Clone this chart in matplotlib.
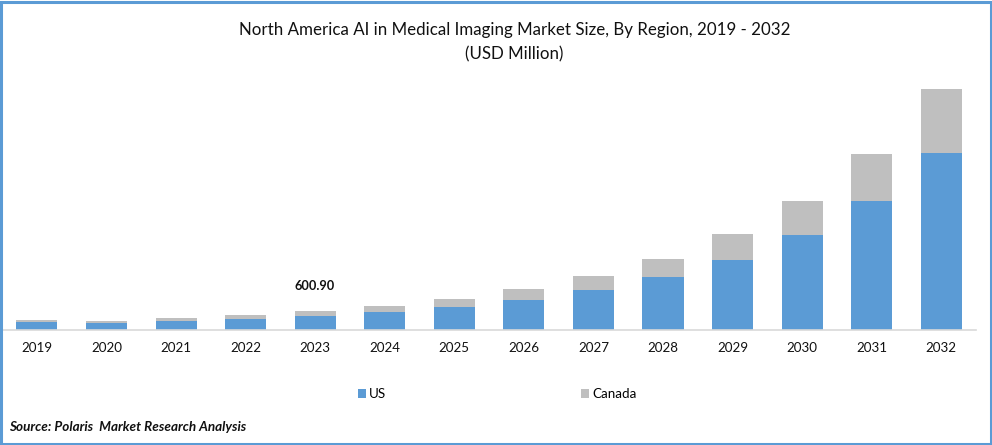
"""North America AI in medical imaging market size, stacked bars by region."""

import matplotlib.pyplot as plt
from matplotlib.patches import Rectangle

plt.rcParams["font.family"] = ["Lato", "DejaVu Sans"]

YEARS = ["2019", "2020", "2021", "2022", "2023", "2024", "2025",
         "2026", "2027", "2028", "2029", "2030", "2031", "2032"]
US = [253, 221, 284, 348, 443, 569, 727, 948, 1264, 1675, 2212, 3002, 4076, 5593]
CANADA = [63, 63, 95, 126, 157.9, 190, 253, 348, 442, 569, 822, 1074, 1485, 2022]

W, H = 992, 445
BLUE = "#5B9BD5"
GREY = "#BFBFBF"

fig = plt.figure(figsize=(W / 100, H / 100), dpi=100, facecolor="white")
# axes box in pixels: baseline at y=330, top of tallest bar near y=89
ax = fig.add_axes([2.2 / W, (H - 330) / H, (976 - 2.2) / W, 260 / H])

x = range(len(YEARS))
ax.bar(x, US, width=0.59, color=BLUE, label="US")
ax.bar(x, CANADA, width=0.59, bottom=US, color=GREY, label="Canada")

ax.set_xlim(-0.5, 13.5)
ax.set_ylim(0, 260 * 31.6)
ax.set_xticks(list(x))
ax.set_xticklabels(YEARS, fontsize=9.6, color="#111111")
ax.tick_params(axis="x", length=0, pad=8.5)
ax.set_yticks([])
for s in ["top", "left", "right"]:
    ax.spines[s].set_visible(False)
ax.spines["bottom"].set_color("#D9D9D9")
ax.spines["bottom"].set_linewidth(1.2)

ax.text(3.985, US[4] + CANADA[4] + 600, "600.90", ha="center", va="bottom",
        fontsize=9.2, fontweight="bold", color="#111111")

fig.text(515 / W, 1 - 30 / H, "North America AI in Medical Imaging Market Size, By Region, 2019 - 2032",
         ha="center", va="center", fontsize=12.2, color="#111111")
fig.text(514 / W, 1 - 54 / H, "(USD Million)", ha="center", va="center",
         fontsize=12.2, color="#111111")

handles, labels = ax.get_legend_handles_labels()
fig.legend(handles, labels, loc="center", bbox_to_anchor=(497 / W, 1 - 394 / H), ncol=2,
           frameon=False, fontsize=9.6, handlelength=0.6, handleheight=0.6,
           handletextpad=0.25, columnspacing=14.6)

fig.text(9.5 / W, 1 - 427 / H, "Source: Polaris  Market Research Analysis", ha="left", va="center",
         fontsize=9.7, fontweight="bold", style="italic", color="#111111")

# outer blue frame
fig.add_artist(Rectangle((1 / W, 1 / H), (W - 2) / W, (H - 2.5) / H, transform=fig.transFigure,
                         fill=False, edgecolor=BLUE, linewidth=2.2))

fig.savefig("out.png", dpi=100)
